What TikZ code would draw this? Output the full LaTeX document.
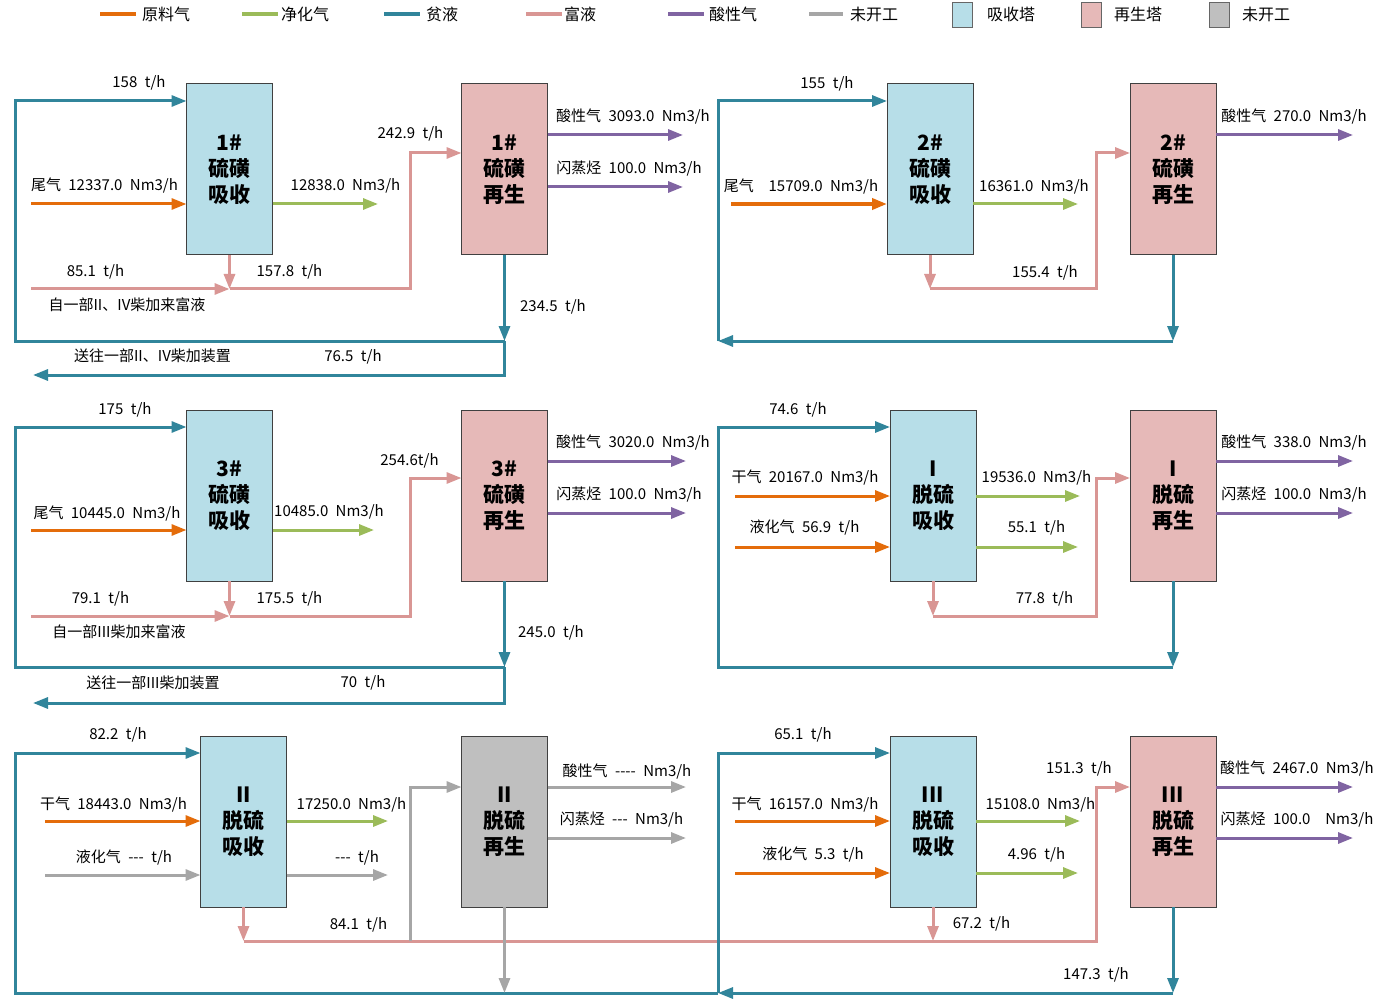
\documentclass[tikz,border=0pt]{standalone}
\usepackage{fontspec}
\setmainfont{Noto Sans CJK SC}[Ligatures=TeXOff,WordSpace=2.2]
\usetikzlibrary{positioning}
\usetikzlibrary{arrows.meta}

\definecolor{feedc}{RGB}{228,108,10}
\definecolor{cleanc}{RGB}{155,187,89}
\definecolor{leanc}{RGB}{49,133,155}
\definecolor{richc}{RGB}{217,150,148}
\definecolor{acidc}{RGB}{128,100,162}
\definecolor{idlec}{RGB}{166,166,166}
\definecolor{absc}{RGB}{183,222,232}
\definecolor{regc}{RGB}{230,185,184}
\definecolor{offc}{RGB}{191,191,191}

\tikzset{
    tower/.style={rectangle, draw=black!75, line width=1pt, minimum width=86pt, minimum height=171pt, inner sep=0pt, outer sep=0pt, align=center, font=\fontsize{21}{26}\selectfont\bfseries},
    absbox/.style={tower, fill=absc},
    regbox/.style={tower, fill=regc},
    offbox/.style={tower, fill=offc},
    pipe/.style={line width=3pt, -{Triangle[length=15pt,width=11pt]}},
    feed/.style={pipe, draw=feedc},
    clean/.style={pipe, draw=cleanc},
    lean/.style={pipe, draw=leanc},
    rich/.style={pipe, draw=richc},
    acid/.style={pipe, draw=acidc},
    idle/.style={pipe, draw=idlec},
    lbl/.style={inner sep=0pt, font=\fontsize{15}{18}\selectfont},
    keytext/.style={inner sep=0pt, anchor=west, font=\fontsize{16}{18}\selectfont},
    keybox/.style={rectangle, draw=black!60, line width=1pt, minimum width=20pt, minimum height=25pt, inner sep=0pt}
}

\begin{document}
\begin{tikzpicture}[x=1pt, y=-1pt]
    \fill[white] (0,0) rectangle (1400,1000);
    \useasboundingbox (0,0) rectangle (1400,1000);

    % legend
    \node (kfeed) [keytext] at (142,14) {原料气};
    \node (kclean) [keytext] at (281,14) {净化气};
    \node (klean) [keytext] at (426,14) {贫液};
    \node (krich) [keytext] at (564,14) {富液};
    \node (kacid) [keytext] at (709,14) {酸性气};
    \node (kidle) [keytext] at (850,14) {未开工};
    \draw[feed, -, line width=3.5pt] (kfeed.west) ++(-42,0) -- ++(36,0);
    \draw[clean, -, line width=3.5pt] (kclean.west) ++(-39,0) -- ++(36,0);
    \draw[lean, -, line width=3.5pt] (klean.west) ++(-42,0) -- ++(36,0);
    \draw[rich, -, line width=3.5pt] (krich.west) ++(-38,0) -- ++(36,0);
    \draw[acid, -, line width=3.5pt] (kacid.west) ++(-41,0) -- ++(36,0);
    \draw[idle, -, line width=3.5pt] (kidle.west) ++(-41,0) -- ++(34,0);
    \node (kabs) [keybox, fill=absc] at (962.5,15.5) {};
    \node (kreg) [keybox, fill=regc] at (1091.5,15.5) {};
    \node (koff) [keybox, fill=offc] at (1219.5,15.5) {};
    \node (kabstext) [keytext] at (987,14) {吸收塔};
    \node (kregtext) [keytext] at (1114,14) {再生塔};
    \node (kofftext) [keytext] at (1242,14) {未开工};

    % towers
    \node (abs1) [absbox] at (229.5,169.5) {1\#\\硫磺\\吸收};
    \node (regen1) [regbox, right = 189pt of abs1] {1\#\\硫磺\\再生};
    \node (abs2) [absbox] at (930,169.5) {2\#\\硫磺\\吸收};
    \node (regen2) [regbox, right = 157pt of abs2] {2\#\\硫磺\\再生};
    \node (abs3) [absbox, below = 155pt of abs1] {3\#\\硫磺\\吸收};
    \node (regen3) [regbox, right = 189pt of abs3] {3\#\\硫磺\\再生};
    \node (absI) [absbox, below = 155pt of abs2, xshift=3pt] {I\\脱硫\\吸收};
    \node (regenI) [regbox, right = 154pt of absI] {I\\脱硫\\再生};
    \node (absII) [absbox, below = 155pt of abs3, xshift=14pt] {II\\脱硫\\吸收};
    \node (regenII) [offbox, right = 175pt of absII] {II\\脱硫\\再生};
    \node (absIII) [absbox, below = 155pt of absI] {III\\脱硫\\吸收};
    \node (regenIII) [regbox, right = 154pt of absIII] {III\\脱硫\\再生};

    % 1#
    \coordinate (lean1) at (15,101);
    \coordinate (ret1) at (504.5,341);
    \coordinate (dest1) at (33,375);
    \coordinate (tail1) at (31,204);
    \coordinate (gas1) at (378,204);
    \coordinate (rich1) at (229.5,289);
    \coordinate (richin1) at (31,289);
    \coordinate (rup1) at (410,153);
    \coordinate (acid1) at (683,135);
    \coordinate (flash1) at (683,187);
    \draw[rich] (abs1.south) -- (rich1);
    \draw[rich] (richin1) -- (rich1);
    \draw[rich] (rich1) -| (rup1) -- (rup1 -| regen1.west);
    \draw[lean] (regen1.south) -- (ret1);
    \draw[lean] (ret1) -| (lean1) -- (lean1 -| abs1.west);
    \draw[lean] (ret1) |- (dest1);
    \draw[feed] (tail1) -- (tail1 -| abs1.west);
    \draw[clean] (gas1 -| abs1.east) -- (gas1);
    \draw[acid] (acid1 -| regen1.east) -- (acid1);
    \draw[acid] (flash1 -| regen1.east) -- (flash1);
    \node (lean1txt) [lbl] at (139,83) {158 t/h};
    \node (tail1txt) [lbl] at (104.5,186) {尾气 12337.0 Nm3/h};
    \node (gas1txt) [lbl] at (345.5,186) {12838.0 Nm3/h};
    \node (rup1txt) [lbl] at (410.5,134) {242.9 t/h};
    \node (richin1txt) [lbl] at (95.5,272) {85.1 t/h};
    \node (rich1txt) [lbl] at (289.5,272) {157.8 t/h};
    \node (src1txt) [lbl] at (127,305) {自一部II、IV柴加来富液};
    \node (ret1txt) [lbl] at (553,307) {234.5 t/h};
    \node (dest1txt) [lbl] at (152.5,356) {送往一部II、IV柴加装置};
    \node (out1txt) [lbl] at (353,357) {76.5 t/h};
    \node (acid1txt) [lbl] at (633,117) {酸性气 3093.0 Nm3/h};
    \node (flash1txt) [lbl] at (629,169) {闪蒸烃 100.0 Nm3/h};

    % 2#
    \coordinate (lean2) at (718,101);
    \coordinate (ret2) at (1173,341);
    \coordinate (back2) at (718,341);
    \coordinate (tail2) at (731,204);
    \coordinate (gas2) at (1078,204);
    \coordinate (rich2) at (930,289);
    \coordinate (rup2) at (1096,153);
    \coordinate (acid2) at (1353,135);
    \draw[rich] (abs2.south) -- (rich2);
    \draw[rich] (rich2) -| (rup2) -- (rup2 -| regen2.west);
    \draw[lean] (regen2.south) -- (ret2);
    \draw[lean] (ret2) -- (back2);
    \draw[lean] (back2) -- (lean2) -- (lean2 -| abs2.west);
    \draw[feed, line width=3.6pt] (tail2) -- (tail2 -| abs2.west);
    \draw[clean] (gas2 -| abs2.east) -- (gas2);
    \draw[acid] (acid2 -| regen2.east) -- (acid2);
    \node (lean2txt) [lbl] at (827,84) {155 t/h};
    \node (tail2txt) [lbl] at (801,187) {尾气\ \ 15709.0 Nm3/h};
    \node (gas2txt) [lbl] at (1034,187) {16361.0 Nm3/h};
    \node (rich2txt) [lbl] at (1045,273) {155.4 t/h};
    \node (acid2txt) [lbl] at (1294,117) {酸性气 270.0 Nm3/h};

    % 3#
    \coordinate (lean3) at (15,427);
    \coordinate (ret3) at (504.5,667);
    \coordinate (dest3) at (33,703);
    \coordinate (tail3) at (31,530);
    \coordinate (gas3) at (374,530);
    \coordinate (rich3) at (229.5,616);
    \coordinate (richin3) at (31,616);
    \coordinate (rup3) at (410,478);
    \coordinate (acid3) at (686,461);
    \coordinate (flash3) at (686,513);
    \draw[rich] (abs3.south) -- (rich3);
    \draw[rich] (richin3) -- (rich3);
    \draw[rich] (rich3) -| (rup3) -- (rup3 -| regen3.west);
    \draw[lean] (regen3.south) -- (ret3);
    \draw[lean] (ret3) -| (lean3) -- (lean3 -| abs3.west);
    \draw[lean] (ret3) |- (dest3);
    \draw[feed] (tail3) -- (tail3 -| abs3.west);
    \draw[clean] (gas3 -| abs3.east) -- (gas3);
    \draw[acid] (acid3 -| regen3.east) -- (acid3);
    \draw[acid] (flash3 -| regen3.east) -- (flash3);
    \node (lean3txt) [lbl] at (125,410) {175 t/h};
    \node (tail3txt) [lbl] at (107,514) {尾气 10445.0 Nm3/h};
    \node (gas3txt) [lbl] at (329,512) {10485.0 Nm3/h};
    \node (rup3txt) [lbl] at (409.5,461) {254.6t/h};
    \node (richin3txt) [lbl] at (100.5,599) {79.1 t/h};
    \node (rich3txt) [lbl] at (289.5,599) {175.5 t/h};
    \node (src3txt) [lbl] at (119,632) {自一部III柴加来富液};
    \node (ret3txt) [lbl] at (551,633) {245.0 t/h};
    \node (dest3txt) [lbl] at (153,683) {送往一部III柴加装置};
    \node (out3txt) [lbl] at (363,683) {70 t/h};
    \node (acid3txt) [lbl] at (633,443) {酸性气 3020.0 Nm3/h};
    \node (flash3txt) [lbl] at (629,495) {闪蒸烃 100.0 Nm3/h};

    % I
    \coordinate (leanI) at (718,427);
    \coordinate (retI) at (1173,667);
    \coordinate (dryI) at (735,496);
    \coordinate (lpgI) at (735,547);
    \coordinate (gasI) at (1080,496);
    \coordinate (lpgoutI) at (1078,547);
    \coordinate (richI) at (933,616);
    \coordinate (rupI) at (1096,478);
    \coordinate (acidI) at (1353,461);
    \coordinate (flashI) at (1353,513);
    \draw[rich] (absI.south) -- (richI);
    \draw[rich] (richI) -| (rupI) -- (rupI -| regenI.west);
    \draw[lean] (regenI.south) -- (retI);
    \draw[lean] (retI) -| (leanI) -- (leanI -| absI.west);
    \draw[feed] (dryI) -- (dryI -| absI.west);
    \draw[feed] (lpgI) -- (lpgI -| absI.west);
    \draw[clean] (gasI -| absI.east) -- (gasI);
    \draw[clean] (lpgoutI -| absI.east) -- (lpgoutI);
    \draw[acid] (acidI -| regenI.east) -- (acidI);
    \draw[acid] (flashI -| regenI.east) -- (flashI);
    \node (leanItxt) [lbl] at (798,410) {74.6 t/h};
    \node (dryItxt) [lbl] at (805,478) {干气 20167.0 Nm3/h};
    \node (lpgItxt) [lbl] at (804.5,528) {液化气 56.9 t/h};
    \node (gasItxt) [lbl] at (1036.5,478) {19536.0 Nm3/h};
    \node (lpgoutItxt) [lbl] at (1036.5,528) {55.1 t/h};
    \node (richItxt) [lbl] at (1044.5,599) {77.8 t/h};
    \node (acidItxt) [lbl] at (1294,443) {酸性气 338.0 Nm3/h};
    \node (flashItxt) [lbl] at (1294,495) {闪蒸烃 100.0 Nm3/h};

    % II and III
    \coordinate (leanII) at (15,753);
    \coordinate (leanIII) at (718,753);
    \coordinate (retIII) at (1173,993);
    \coordinate (backIII) at (718,993);
    \coordinate (sinkII) at (504.5,993);
    \coordinate (dryII) at (45,821);
    \coordinate (lpgII) at (45,875);
    \coordinate (gasII) at (388,821);
    \coordinate (lpgoutII) at (388,875);
    \coordinate (richII) at (243.5,941);
    \coordinate (richIII) at (933,941);
    \coordinate (rupIII) at (1096,787);
    \coordinate (tapII) at (410,941);
    \coordinate (rupII) at (410,787);
    \coordinate (acidII) at (686,787);
    \coordinate (flashII) at (686,838);
    \coordinate (dryIII) at (735,821);
    \coordinate (lpgIII) at (735,873);
    \coordinate (gasIII) at (1080,821);
    \coordinate (lpgoutIII) at (1078,873);
    \coordinate (acidIII) at (1353,787);
    \coordinate (flashIII) at (1353,838);
    \draw[rich] (absII.south) -- (richII);
    \draw[rich] (richII) -| (rupIII) -- (rupIII -| regenIII.west);
    \draw[rich] (absIII.south) -- (richIII);
    \draw[idle] (tapII) -- (rupII) -- (rupII -| regenII.west);
    \draw[lean] (regenIII.south) -- (retIII);
    \draw[lean] (retIII) -- (backIII);
    \draw[lean] (backIII) -| (leanII) -- (leanII -| absII.west);
    \draw[lean] (backIII) -- (leanIII) -- (leanIII -| absIII.west);
    \draw[idle] (regenII.south) -- (sinkII);
    \draw[feed] (dryII) -- (dryII -| absII.west);
    \draw[idle] (lpgII) -- (lpgII -| absII.west);
    \draw[clean] (gasII -| absII.east) -- (gasII);
    \draw[idle] (lpgoutII -| absII.east) -- (lpgoutII);
    \draw[idle] (acidII -| regenII.east) -- (acidII);
    \draw[idle] (flashII -| regenII.east) -- (flashII);
    \draw[feed] (dryIII) -- (dryIII -| absIII.west);
    \draw[feed] (lpgIII) -- (lpgIII -| absIII.west);
    \draw[clean] (gasIII -| absIII.east) -- (gasIII);
    \draw[clean] (lpgoutIII -| absIII.east) -- (lpgoutIII);
    \draw[acid] (acidIII -| regenIII.east) -- (acidIII);
    \draw[acid] (flashIII -| regenIII.east) -- (flashIII);
    \node (leanIItxt) [lbl] at (118,735) {82.2 t/h};
    \node (dryIItxt) [lbl] at (113.5,805) {干气 18443.0 Nm3/h};
    \node (lpgIItxt) [lbl] at (124,858) {液化气 --- t/h};
    \node (gasIItxt) [lbl] at (351.5,805) {17250.0 Nm3/h};
    \node (lpgoutIItxt) [lbl] at (357,858) {--- t/h};
    \node (richIItxt) [lbl] at (358.5,925) {84.1 t/h};
    \node (acidIItxt) [lbl] at (627,772) {酸性气 ---- Nm3/h};
    \node (flashIItxt) [lbl] at (621.5,820) {闪蒸烃 --- Nm3/h};
    \node (leanIIItxt) [lbl] at (803,735) {65.1 t/h};
    \node (dryIIItxt) [lbl] at (805,805) {干气 16157.0 Nm3/h};
    \node (lpgIIItxt) [lbl] at (813,855) {液化气 5.3 t/h};
    \node (gasIIItxt) [lbl] at (1040.5,805) {15108.0 Nm3/h};
    \node (lpgoutIIItxt) [lbl] at (1036.5,855) {4.96 t/h};
    \node (richIIItxt) [lbl] at (981.5,924) {67.2 t/h};
    \node (rupIIItxt) [lbl] at (1079,769) {151.3 t/h};
    \node (retIIItxt) [lbl] at (1096,975) {147.3 t/h};
    \node (acidIIItxt) [lbl] at (1297,769) {酸性气 2467.0 Nm3/h};
    \node (flashIIItxt) [lbl] at (1297,820) {闪蒸烃 100.0\ \ Nm3/h};
\end{tikzpicture}
\end{document}
